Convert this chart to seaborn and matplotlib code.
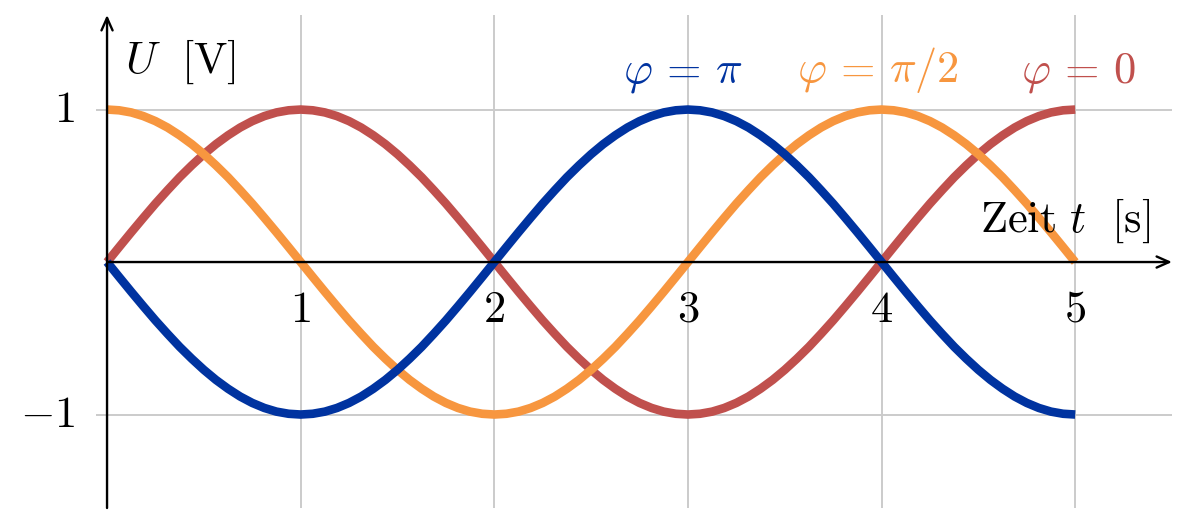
import numpy as np
import pandas as pd
import matplotlib
matplotlib.use('Agg')
import matplotlib.pyplot as plt
import seaborn as sns

sns.set_style('white')
plt.rcParams['mathtext.fontset'] = 'cm'
plt.rcParams['font.family'] = ['DejaVu Serif']
plt.rcParams['text.color'] = 'black'

### values, t in steps of 1/16 s
t = [i / 16 for i in range(81)]
u_phi0 = [0, .098, .195, .290, .383, .471, .556, .634,
          .707, .773, .831, .882, .924, .957, .981, .995,
          1, .995, .981, .957, .924, .882, .831, .773,
          .707, .634, .556, .471, .383, .290, .195, .098,
          0, -.098, -.195, -.290, -.383, -.471, -.556, -.634,
          -.707, -.773, -.831, -.882, -.924, -.957, -.981, -.995,
          -1, -.995, -.981, -.957, -.924, -.882, -.831, -.773,
          -.707, -.634, -.556, -.471, -.383, -.290, -.195, -.098,
          0, .098, .195, .290, .383, .471, .556, .634,
          .707, .773, .831, .882, .924, .957, .981, .995,
          1]
u_phi_half = [1, .995, .981, .957, .924, .882, .831, .773,
              .707, .634, .556, .471, .383, .290, .195, .098,
              0, -.098, -.195, -.290, -.383, -.471, -.556, -.634,
              -.707, -.773, -.831, -.882, -.924, -.957, -.981, -.995,
              -1, -.995, -.981, -.957, -.924, -.882, -.831, -.773,
              -.707, -.634, -.556, -.471, -.383, -.290, -.195, -.098,
              0, .098, .195, .290, .383, .471, .556, .634,
              .707, .773, .831, .882, .924, .957, .981, .995,
              1, .995, .981, .957, .924, .882, .831, .773,
              .707, .634, .556, .471, .383, .290, .195, .098,
              0]
u_phi_pi = [0, -.098, -.195, -.290, -.383, -.471, -.556, -.634,
            -.707, -.773, -.831, -.882, -.924, -.957, -.981, -.995,
            -1, -.995, -.981, -.957, -.924, -.882, -.831, -.773,
            -.707, -.634, -.556, -.471, -.383, -.290, -.195, -.098,
            0, .098, .195, .290, .383, .471, .556, .634,
            .707, .773, .831, .882, .924, .957, .981, .995,
            1, .995, .981, .957, .924, .882, .831, .773,
            .707, .634, .556, .471, .383, .290, .195, .098,
            0, -.098, -.195, -.290, -.383, -.471, -.556, -.634,
            -.707, -.773, -.831, -.882, -.924, -.957, -.981, -.995,
            -1]

series_names = ['phi0', 'phi_half', 'phi_pi']
series_labels = [r'$\varphi\,=\,0$', r'$\varphi\,=\,\pi/2$', r'$\varphi\,=\,\pi$']
colors = ['#c0504d', '#f7963f', '#0033a0']
x_ticks = [1, 2, 3, 4, 5]
y_ticks = [-1, 1]

df = pd.DataFrame({
    't': t * 3,
    'U': u_phi0 + u_phi_half + u_phi_pi,
    'series': [n for n in series_names for _ in t],
})

W, H = 1179, 516
fig = plt.figure(figsize=(W / 100, H / 100), dpi=100)
ax = fig.add_axes([96 / W, 8 / H, (1172 - 96) / W, (508 - 15) / H])

sns.lineplot(data=df, x='t', y='U', hue='series', hue_order=series_names,
             palette=colors, linewidth=6.2, legend=False, ax=ax,
             solid_capstyle='butt', solid_joinstyle='round', zorder=2)

ax.set_xlim(-0.057, 5.50)
ax.set_ylim(-1.613, 1.62)
ax.set_xticks(x_ticks)
ax.set_yticks(y_ticks)
ax.tick_params(length=0, labelbottom=False, labelleft=False)
ax.grid(True, color='#cbcbcb', linewidth=1.4)
ax.set_axisbelow(True)
for s in ax.spines.values():
    s.set_visible(False)
ax.set_xlabel('')
ax.set_ylabel('')

# axes with arrows
arrow = dict(arrowstyle='->, head_length=0.9, head_width=0.4', color='black', lw=1.7,
             shrinkA=0, shrinkB=0)
ax.annotate('', xy=(5.50, 0), xytext=(0, 0), arrowprops=arrow, zorder=3)
ax.annotate('', xy=(0, 1.62), xytext=(0, -1.613), arrowprops=arrow, zorder=3,
            annotation_clip=False)

fs = 32
for x in x_ticks:
    ax.text(x, -0.308, f'${x}$', ha='center', va='center', fontsize=fs)
for y in y_ticks:
    ax.text(-0.165, y, f'${y}$', ha='right', va='center', fontsize=fs, clip_on=False)

ax.text(0.093, 1.24, r'$U\ \ [\mathrm{V}]$', fontsize=fs, ha='left', va='baseline')
ax.text(5.387, 0.197, r'$\mathrm{Zeit}\ t\ \ [\mathrm{s}]$', fontsize=fs,
        ha='right', va='baseline')

label_x = [5.015, 3.98, 2.975]
for lab, c, x in zip(series_labels, colors, label_x):
    ax.text(x, 1.18, lab, color=c, fontsize=fs, ha='center', va='baseline')

fig.savefig('out.png', dpi=100)
